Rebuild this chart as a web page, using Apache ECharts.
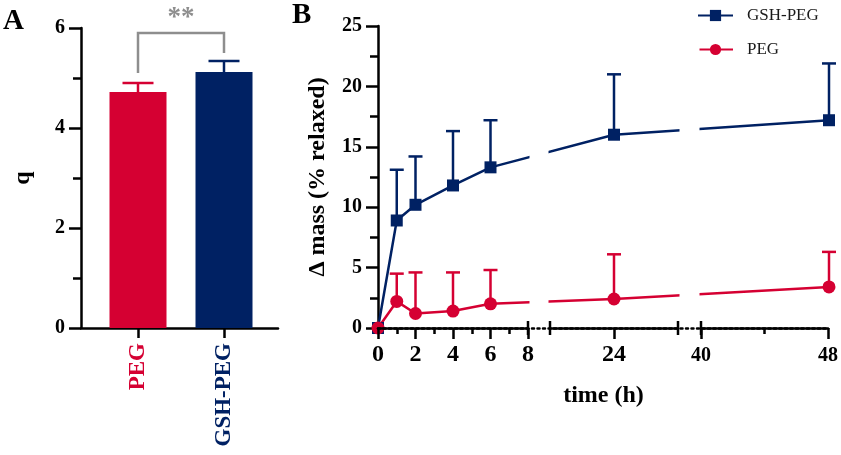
<!DOCTYPE html>
<html>
<head>
<meta charset="utf-8">
<script src="https://cdn.jsdelivr.net/npm/echarts@6/dist/echarts.min.js"></script>
<style>
  html, body { margin: 0; padding: 0; background: #fff; }
  #chart { width: 841px; height: 455px; }
</style>
</head>
<body>
<div id="chart"></div>
<script>
// panel A: q per group
const groups = ['PEG', 'GSH-PEG'];
const qMean = [4.72, 5.12];
const qSD = [0.18, 0.22];
const sigBracket = { from: 0, to: 1, legs: [5.1, 5.5], top: 5.9, label: '**' };

// panel B: mass change over time
const times = [0, 1, 2, 4, 6, 24, 48];
const gshMean = [0, 8.9, 10.2, 11.8, 13.3, 16.0, 17.2];
const gshSD = [0, 4.2, 4.0, 4.5, 3.9, 5.0, 4.7];
const pegMean = [0, 2.2, 1.2, 1.4, 2.0, 2.4, 3.4];
const pegSD = [0, 2.3, 3.4, 3.2, 2.8, 3.7, 2.9];

// broken time axis: the three pieces and the labels on each
const timeSegments = [[0, 8], [20, 28], [40, 48]];
const segmentLabels = [[0, 2, 4, 6, 8], [24], [40, 48]];

const RED = '#d50032';
const NAVY = '#002163';
const GREY = '#8e8e8e';
const groupColors = [RED, NAVY];
const FONT = 'Liberation Serif';

// layout of panel B (pixels)
const B_LEFT = 378, B_TOP = 26, B_H = 302;
const segPx = [[0, 150], [172, 300], [323, 451]];
const segFont = [24, 24, 20];
const B_W = segPx[segPx.length - 1][1];

// hours -> position along the broken axis
function toAxis(t) {
  for (let i = 0; i < timeSegments.length; i++) {
    const [a, b] = timeSegments[i];
    if (t >= a && t <= b) {
      return segPx[i][0] + (t - a) / (b - a) * (segPx[i][1] - segPx[i][0]);
    }
  }
  return null;
}

const chart = echarts.init(document.getElementById('chart'));

function errorBars(color, capW) {
  return function (params, api) {
    const x = api.value(0), lo = api.value(1), hi = api.value(2);
    if (hi === lo) return null;
    const p0 = api.coord([x, lo]);
    const p1 = api.coord([x, hi]);
    const c = typeof color === 'function' ? color(params.dataIndex) : color;
    const st = { stroke: c, lineWidth: 2.5 };
    return {
      type: 'group',
      children: [
        { type: 'line', shape: { x1: p0[0], y1: p0[1], x2: p1[0], y2: p1[1] }, style: st },
        { type: 'line', shape: { x1: p1[0] - capW / 2, y1: p1[1], x2: p1[0] + capW / 2, y2: p1[1] }, style: st }
      ]
    };
  };
}

const axisLineStyle = { color: '#000', width: 2.5 };
const tickStyle = { width: 2.5, color: '#000' };
const tickLabel = { color: '#000', fontWeight: 'bold', fontSize: 20, fontFamily: FONT };

// segment grids for panel B
const segGrids = segPx.map(p => ({ left: B_LEFT + p[0], top: B_TOP, width: p[1] - p[0], height: B_H }));

const segXAxes = timeSegments.map((seg, i) => {
  const labels = segmentLabels[i];
  const ax = {
    type: 'value', gridIndex: 3 + i, min: seg[0], max: seg[1], z: 5,
    axisLine: { show: true, lineStyle: axisLineStyle },
    axisTick: { show: true, length: 11, lineStyle: tickStyle },
    axisLabel: Object.assign({}, tickLabel, {
      margin: segFont[i] > 20 ? 15 : 18, fontSize: segFont[i], customValues: labels
    }),
    splitLine: { show: false }
  };
  if (i === 0) {
    ax.interval = 2;
    ax.minorTick = { show: true, splitNumber: 2, length: 6, lineStyle: tickStyle };
  } else if (i === 1) {
    ax.axisTick.customValues = labels;
  } else {
    ax.interval = 8;
    ax.minorTick = { show: true, splitNumber: 2, length: 6, lineStyle: tickStyle };
  }
  return ax;
});
const segYAxes = timeSegments.map((seg, i) => ({ type: 'value', gridIndex: 3 + i, min: 0, max: 25, show: false }));

const option = {
  animation: false,
  textStyle: { fontFamily: FONT },
  title: [
    { text: 'A', left: 3, top: 7, padding: 0, textStyle: { fontSize: 29, fontWeight: 'bold', fontFamily: FONT, color: '#000' } },
    { text: 'B', left: 292, top: 1, padding: 0, textStyle: { fontSize: 29, fontWeight: 'bold', fontFamily: FONT, color: '#000' } }
  ],
  legend: {
    data: ['GSH-PEG', 'PEG'],
    orient: 'vertical',
    left: 697,
    top: 7,
    padding: 0,
    itemWidth: 35,
    itemHeight: 14,
    itemGap: 17,
    z: 10,
    textStyle: { fontSize: 17, fontFamily: FONT, color: '#1a1a1a', lineHeight: 14, padding: [0, 0, 0, 9] }
  },
  grid: [
    { left: 81, top: 28, width: 197, height: 300 },
    { left: 95, top: 28, width: 172, height: 300 },
    { left: B_LEFT, top: B_TOP, width: B_W, height: B_H }
  ].concat(segGrids),
  xAxis: [
    {
      type: 'value', gridIndex: 0, min: 0, max: 1,
      axisLine: { show: true, lineStyle: axisLineStyle },
      axisTick: { show: false }, axisLabel: { show: false }, splitLine: { show: false }
    },
    {
      type: 'category', gridIndex: 1, data: groups,
      axisLine: { show: false },
      axisTick: { show: true, alignWithLabel: true, length: 10, lineStyle: tickStyle },
      axisLabel: {
        rotate: 90, margin: 15, fontSize: 23, fontWeight: 'bold', fontFamily: FONT,
        color: (v, i) => groupColors[i]
      }
    },
    {
      type: 'value', gridIndex: 2, min: 0, max: B_W, z: 4,
      axisLine: { show: true, lineStyle: { color: '#000', width: 2.5, type: [2, 3.5] } },
      axisTick: { show: false }, axisLabel: { show: false }, splitLine: { show: false },
      name: 'time (h)', nameLocation: 'middle', nameGap: 56,
      nameTextStyle: { fontSize: 24, fontWeight: 'bold', fontFamily: FONT, color: '#000' }
    }
  ].concat(segXAxes),
  yAxis: [
    {
      type: 'value', gridIndex: 0, min: 0, max: 6, interval: 2,
      axisLine: { show: true, lineStyle: axisLineStyle },
      axisTick: { show: true, length: 12, lineStyle: tickStyle },
      minorTick: { show: true, splitNumber: 2, length: 8, lineStyle: tickStyle },
      axisLabel: Object.assign({ margin: 16 }, tickLabel),
      splitLine: { show: false },
      name: 'q', nameLocation: 'middle', nameGap: 46, nameRotate: 90,
      nameTextStyle: { fontSize: 24, fontWeight: 'bold', fontFamily: FONT, color: '#000' }
    },
    { type: 'value', gridIndex: 1, min: 0, max: 6, show: false },
    {
      type: 'value', gridIndex: 2, min: 0, max: 25, interval: 5,
      axisLine: { show: true, lineStyle: axisLineStyle },
      axisTick: { show: true, length: 12, lineStyle: tickStyle },
      minorTick: { show: true, splitNumber: 2, length: 8, lineStyle: tickStyle },
      axisLabel: Object.assign({ margin: 16 }, tickLabel),
      splitLine: { show: false },
      name: 'Δ mass (% relaxed)', nameLocation: 'middle', nameGap: 48, nameRotate: 90,
      nameTextStyle: { fontSize: 24, fontWeight: 'bold', fontFamily: FONT, color: '#000' }
    }
  ].concat(segYAxes),
  series: [
    // panel A
    {
      type: 'bar', xAxisIndex: 1, yAxisIndex: 1, barWidth: 57,
      data: qMean.map((v, i) => ({ value: v, itemStyle: { color: groupColors[i] } }))
    },
    {
      type: 'custom', name: 'qErr', xAxisIndex: 1, yAxisIndex: 1, z: 3, silent: true,
      renderItem: errorBars(i => groupColors[i], 31),
      encode: { x: 0, y: [1, 2] },
      data: qMean.map((v, i) => [i, v, v + qSD[i]])
    },
    {
      type: 'custom', name: 'sig', xAxisIndex: 1, yAxisIndex: 1, silent: true,
      renderItem: function (params, api) {
        const a = api.coord([api.value(0), api.value(2)]);
        const aTop = api.coord([api.value(0), api.value(4)]);
        const b = api.coord([api.value(1), api.value(3)]);
        const bTop = api.coord([api.value(1), api.value(4)]);
        return {
          type: 'group',
          children: [
            {
              type: 'polyline',
              shape: { points: [a, aTop, bTop, b] },
              style: { stroke: GREY, lineWidth: 2.5, fill: null }
            },
            {
              type: 'text',
              style: {
                x: (aTop[0] + bTop[0]) / 2, y: aTop[1] - 28, text: sigBracket.label,
                fill: GREY, font: 'bold 27px "Liberation Serif"', align: 'center', verticalAlign: 'top'
              }
            }
          ]
        };
      },
      encode: { x: [0, 1], y: [2, 3, 4] },
      data: [[sigBracket.from, sigBracket.to, sigBracket.legs[0], sigBracket.legs[1], sigBracket.top]]
    },
    // panel B
    {
      type: 'custom', name: 'gshErr', xAxisIndex: 2, yAxisIndex: 2, z: 1, silent: true,
      renderItem: errorBars(NAVY, 14),
      encode: { x: 0, y: [1, 2] },
      data: times.map((t, i) => [toAxis(t), gshMean[i], gshMean[i] + gshSD[i]])
    },
    {
      type: 'custom', name: 'pegErr', xAxisIndex: 2, yAxisIndex: 2, z: 1, silent: true,
      renderItem: errorBars(RED, 14),
      encode: { x: 0, y: [1, 2] },
      data: times.map((t, i) => [toAxis(t), pegMean[i], pegMean[i] + pegSD[i]])
    },
    {
      type: 'line', name: 'GSH-PEG', xAxisIndex: 2, yAxisIndex: 2,
      symbol: 'rect', symbolSize: 12, color: NAVY,
      lineStyle: { width: 2.5, color: NAVY },
      itemStyle: { color: NAVY },
      data: times.map((t, i) => [toAxis(t), gshMean[i]])
    },
    {
      type: 'line', name: 'PEG', xAxisIndex: 2, yAxisIndex: 2,
      symbol: 'circle', symbolSize: 13, color: RED,
      lineStyle: { width: 2.5, color: RED },
      itemStyle: { color: RED },
      data: times.map((t, i) => [toAxis(t), pegMean[i]])
    },
    {
      // blank out the lines where the time axis is broken, and mark the break ends
      type: 'custom', name: 'breaks', xAxisIndex: 2, yAxisIndex: 2, z: 10, silent: true,
      renderItem: function (params, api) {
        const p0 = api.coord([api.value(0), api.value(3)]);
        const p1 = api.coord([api.value(2), api.value(1)]);
        const st = { stroke: '#000', lineWidth: 2.5 };
        return {
          type: 'group',
          children: [
            {
              type: 'rect',
              shape: { x: p0[0] + 1.5, y: p0[1], width: p1[0] - p0[0] - 3, height: p1[1] - p0[1] - 3 },
              style: { fill: '#fff' }
            },
            { type: 'line', shape: { x1: p0[0], y1: p1[1] - 7, x2: p0[0], y2: p1[1] + 7 }, style: st },
            { type: 'line', shape: { x1: p1[0], y1: p1[1] - 7, x2: p1[0], y2: p1[1] + 7 }, style: st }
          ]
        };
      },
      encode: { x: [0, 2], y: [1, 3] },
      data: segPx.slice(1).map((p, i) => [segPx[i][1], 0, p[0], 25])
    }
  ]
};

chart.setOption(option);
</script>
</body>
</html>
